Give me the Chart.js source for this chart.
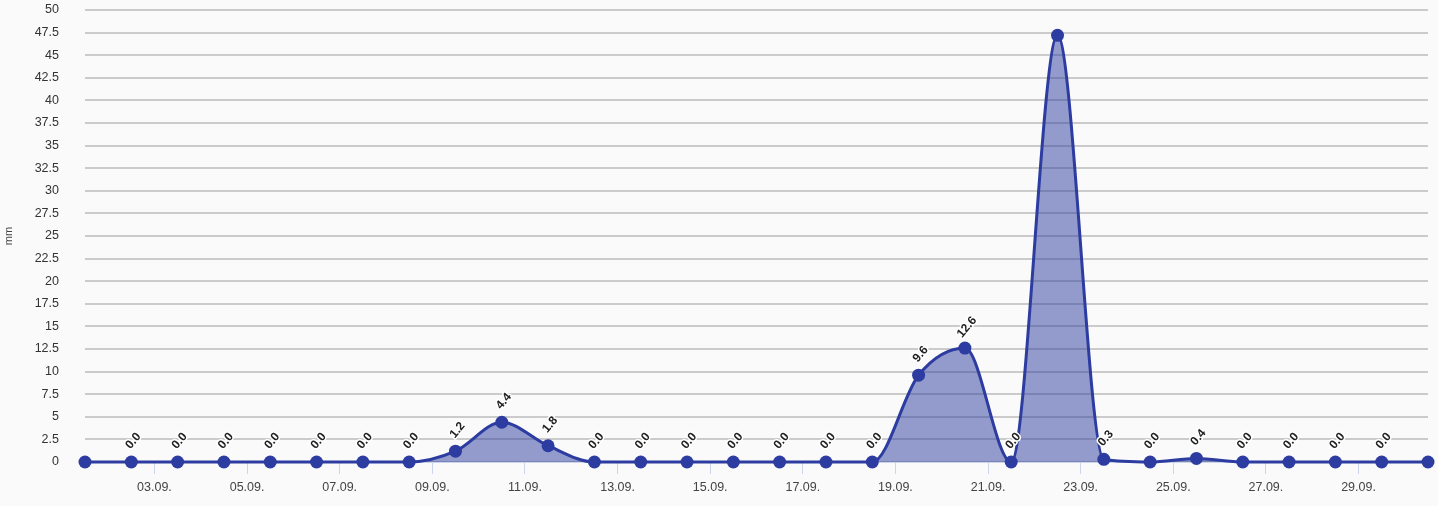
<!DOCTYPE html>
<html>
<head>
<meta charset="utf-8">
<script src="https://cdn.jsdelivr.net/npm/chart.js@4"></script>
<style>
  html, body { margin: 0; padding: 0; background: #fafafa; }
  #wrap { width: 1438px; height: 506px; position: relative; }
</style>
</head>
<body>
<div id="wrap"><canvas id="chart"></canvas></div>
<script>
// Tagesniederschlag September (Tag -> mm)
const days = [1, 2, 3, 4, 5, 6, 7, 8, 9, 10, 11, 12, 13, 14, 15, 16, 17, 18, 19, 20, 21, 22, 23, 24, 25, 26, 27, 28, 29, 30];
const rain = [0, 0, 0, 0, 0, 0, 0, 0, 1.2, 4.4, 1.8, 0, 0, 0, 0, 0, 0, 0, 9.6, 12.6, 0, 47.2, 0.3, 0, 0.4, 0, 0, 0, 0, 0];
// Datenbeschriftungen, die im Original nicht sichtbar sind
const hiddenLabels = [0, 21, 29];
// Achsenbeschriftungen (Mitternacht jedes zweiten Tages)
const xTickPos = [2.5, 4.5, 6.5, 8.5, 10.5, 12.5, 14.5, 16.5, 18.5, 20.5, 22.5, 24.5, 26.5, 28.5];
const xTickLabels = ['03.09.', '05.09.', '07.09.', '09.09.', '11.09.', '13.09.', '15.09.', '17.09.', '19.09.', '21.09.', '23.09.', '25.09.', '27.09.', '29.09.'];

const lineColor = 'rgb(44, 60, 160)';
const fontFam = '"Liberation Sans", Arial, sans-serif';

// Beschriftungen ueber den Punkten (gedreht)
const valueLabels = {
    id: 'valueLabels',
    afterDatasetsDraw(chart) {
        const ctx = chart.ctx;
        const meta = chart.getDatasetMeta(0);
        ctx.save();
        ctx.font = 'bold 12px ' + fontFam;
        ctx.textAlign = 'center';
        ctx.textBaseline = 'middle';
        ctx.lineJoin = 'round';
        meta.data.forEach((pt, i) => {
            if (hiddenLabels.includes(i)) return;
            const txt = rain[i].toFixed(1);
            ctx.save();
            ctx.translate(pt.x + 2, pt.y - 21);
            ctx.rotate(-50 * Math.PI / 180);
            ctx.strokeStyle = '#ffffff';
            ctx.lineWidth = 3;
            ctx.strokeText(txt, 0, 0);
            ctx.fillStyle = '#222222';
            ctx.fillText(txt, 0, 0);
            ctx.restore();
        });
        ctx.restore();
    }
};

new Chart(document.getElementById('chart'), {
    type: 'line',
    data: {
        datasets: [{
            data: days.map((d, i) => ({ x: d, y: rain[i] })),
            borderColor: lineColor,
            backgroundColor: 'rgba(44, 60, 160, 0.5)',
            borderWidth: 3,
            fill: 'origin',
            cubicInterpolationMode: 'monotone',
            pointRadius: 6.5,
            pointHoverRadius: 6.5,
            pointBackgroundColor: lineColor,
            pointBorderWidth: 0,
            clip: 10
        }]
    },
    options: {
        responsive: true,
        maintainAspectRatio: false,
        animation: false,
        layout: {
            padding: { top: 10, right: 10, left: 0, bottom: 0 }
        },
        plugins: {
            legend: { display: false },
            tooltip: { enabled: false }
        },
        scales: {
            x: {
                type: 'linear',
                min: 1,
                max: 30,
                afterBuildTicks: (axis) => {
                    axis.ticks = xTickPos.map(v => ({ value: v }));
                },
                afterFit: (axis) => { axis.height = 44; },
                grid: {
                    drawOnChartArea: false,
                    drawTicks: true,
                    tickLength: 12,
                    color: '#ccd6eb'
                },
                border: { display: true, color: '#ccd6eb' },
                ticks: {
                    autoSkip: false,
                    maxRotation: 0,
                    padding: 6,
                    color: '#444444',
                    font: { family: fontFam, size: 12.5 },
                    callback: (v) => {
                        const k = xTickPos.indexOf(v);
                        return k >= 0 ? xTickLabels[k] : '';
                    }
                }
            },
            y: {
                min: 0,
                max: 50,
                afterFit: (axis) => {
                    axis.width = 85;
                    // Tick-Abstand soll nicht nach oben/unten wirken
                    axis.paddingTop = 0;
                    axis.paddingBottom = 0;
                },
                title: {
                    display: true,
                    text: 'mm',
                    color: '#444444',
                    padding: { top: 2, bottom: 2 },
                    font: { family: fontFam, size: 11 }
                },
                grid: {
                    color: '#cbcbcb',
                    lineWidth: 2,
                    drawTicks: false
                },
                border: { display: false },
                ticks: {
                    stepSize: 2.5,
                    autoSkip: false,
                    padding: 26,
                    color: '#333333',
                    font: { family: fontFam, size: 12.5 }
                }
            }
        }
    },
    plugins: [valueLabels]
});
</script>
</body>
</html>
